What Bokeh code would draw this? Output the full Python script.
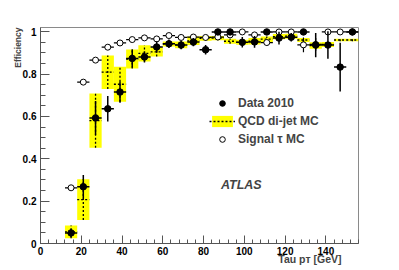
import numpy as np
from bokeh.plotting import figure
from bokeh.models import (Range1d, FixedTicker, CustomJSTickFormatter, Label, Title,
                          Legend, LegendItem, ColumnDataSource)
from bokeh.embed import file_html
from bokeh.resources import INLINE

# ---- data ----
bin_centers = [15, 21, 27, 33, 39, 45, 51, 57, 63, 69, 75, 81, 87, 93, 99,
               105, 111, 117, 123, 129, 135, 141, 147, 153]
bin_half_width = 3.0

data_eff = [0.050, 0.268, 0.593, 0.636, 0.715, 0.874, 0.881, 0.928, 0.943, 0.937,
            0.951, 0.915, 0.999, 0.999, 0.950, 0.952, 0.999, 0.970, 0.974, 0.999,
            0.937, 0.937, 0.833, 0.999]
data_err = [0.020, 0.055, 0.080, 0.060, 0.050, 0.043, 0.026, 0.027, 0.020, 0.020,
            0.020, 0.022, 0.008, 0.010, 0.025, 0.028, 0.010, 0.030, 0.020, 0.010,
            0.057, 0.065, 0.115, 0.010]

sig_eff = [0.263, 0.762, 0.866, 0.927, 0.947, 0.963, 0.971, 0.966, 0.982, 0.973,
           0.975, 0.973, 0.975, 0.985, 0.999, 0.985, 0.949, 0.999, 0.999, 0.938,
           0.940, 0.999, 0.999, 0.999]
sig_err = [0.005, 0.008, 0.006, 0.005, 0.005, 0.005, 0.005, 0.005, 0.005, 0.006,
           0.006, 0.007, 0.008, 0.008, 0.008, 0.010, 0.015, 0.010, 0.010, 0.035,
           0.030, 0.010, 0.010, 0.010]

qcd_eff = [0.055, 0.207, 0.580, 0.809, 0.752, 0.871, 0.898, 0.905, 0.942, 0.938,
           0.957, 0.969, 0.970, 0.955, 0.950, 0.955, 0.965, 0.977, 0.979, 0.961,
           0.935, 0.940, 0.961, 0.961]
qcd_err = [0.030, 0.096, 0.128, 0.079, 0.083, 0.045, 0.038, 0.022, 0.012, 0.016,
           0.020, 0.011, 0.010, 0.012, 0.012, 0.015, 0.013, 0.012, 0.012, 0.010,
           0.015, 0.012, 0.006, 0.006]

x_ticks = [0, 20, 40, 60, 80, 100, 120, 140]
y_ticks = [0, 0.2, 0.4, 0.6, 0.8, 1]

# ---- derived columns ----
xc = np.array(bin_centers, dtype=float)
def src(eff, err):
    eff = np.array(eff); err = np.array(err)
    return ColumnDataSource(dict(x=xc, l=xc - bin_half_width, r=xc + bin_half_width,
                                 y=eff, lo=eff - err, hi=eff + err))
s_data = src(data_eff, data_err)
s_sig = src(sig_eff, sig_err)
s_qcd = src(qcd_eff, qcd_err)

FONT = "Liberation Sans"

p = figure(frame_width=318, frame_height=216,
           x_range=Range1d(0, 156), y_range=Range1d(0, 1.02),
           output_backend="svg", toolbar_location=None,
           min_border_left=40, min_border_right=41,
           min_border_top=27, min_border_bottom=27)
p.xgrid.visible = False
p.ygrid.visible = False
p.outline_line_color = "#8a8a8a"
p.background_fill_color = "white"
p.border_fill_color = "white"

p.xaxis.ticker = FixedTicker(ticks=x_ticks, minor_ticks=list(range(0, 157, 4)))
p.yaxis.ticker = FixedTicker(ticks=y_ticks, minor_ticks=[i * 0.05 for i in range(21)])
p.yaxis.formatter = CustomJSTickFormatter(code="return String(Math.round(tick*10)/10)")
for ax, mj, mn in ((p.xaxis[0], 8, 4), (p.yaxis[0], 9, 5)):
    ax.major_tick_in = mj
    ax.major_tick_out = 0
    ax.minor_tick_in = mn
    ax.minor_tick_out = 0
    ax.axis_line_color = "#555555"
    ax.major_tick_line_color = "#555555"
    ax.minor_tick_line_color = "#555555"
    ax.major_label_text_font = FONT
    ax.major_label_text_font_style = "bold"
    ax.major_label_text_font_size = "10px"
    ax.major_label_text_color = "black"
p.xaxis.major_label_standoff = 3
p.yaxis.major_label_standoff = 4

# QCD MC: yellow boxes with dashed lines
qcd_box = p.quad(left="l", right="r", bottom="lo", top="hi", source=s_qcd,
                 fill_color="#ffff00", line_color=None)
qcd_h = p.segment(x0="l", y0="y", x1="r", y1="y", source=s_qcd,
                  line_color="black", line_width=1.3, line_dash="2 2")
p.segment(x0="x", y0="lo", x1="x", y1="hi", source=s_qcd,
          line_color="black", line_width=1.3, line_dash="2 2")

# Signal tau MC: open circles
p.segment(x0="l", y0="y", x1="r", y1="y", source=s_sig, line_color="black", line_width=1.2)
p.segment(x0="x", y0="lo", x1="x", y1="hi", source=s_sig, line_color="black", line_width=1.2)
sig_pts = p.scatter(x="x", y="y", source=s_sig, marker="circle", size=6,
                    fill_color="white", line_color="black", line_width=1)

# Data 2010: filled circles
p.segment(x0="l", y0="y", x1="r", y1="y", source=s_data, line_color="black", line_width=1.5)
p.segment(x0="x", y0="lo", x1="x", y1="hi", source=s_data, line_color="black", line_width=1.5)
data_pts = p.scatter(x="x", y="y", source=s_data, marker="circle", size=6.5,
                     fill_color="black", line_color="black")

legend = Legend(items=[LegendItem(label="Data 2010", renderers=[data_pts]),
                       LegendItem(label="QCD di-jet MC", renderers=[qcd_box, qcd_h]),
                       LegendItem(label="Signal \u03c4 MC", renderers=[sig_pts])],
                location=(169, 97), glyph_width=26, glyph_height=14, label_height=14,
                spacing=4, padding=0, margin=0, label_standoff=3,
                border_line_color=None, background_fill_alpha=0,
                label_text_font=FONT, label_text_font_style="bold",
                label_text_font_size="12px")
p.add_layout(legend)

p.add_layout(Label(x=88.5, y=0.276, text="ATLAS", text_font=FONT,
                   text_font_style="bold italic", text_font_size="12.5px",
                   text_baseline="middle"))

# axis titles as side-panel titles (not clipped by the frame)
p.add_layout(Title(text="Efficiency", align="right", text_font=FONT,
                   text_font_style="bold", text_font_size="8.5px",
                   standoff=-6, offset=0), "left")
p.add_layout(Title(text="Tau p\u1d1b  [GeV]", align="right", vertical_align="top",
                   text_font=FONT, text_font_style="bold", text_font_size="10.5px",
                   standoff=-10, offset=14), "below")

open("out.html", "w").write(file_html(p, INLINE))
